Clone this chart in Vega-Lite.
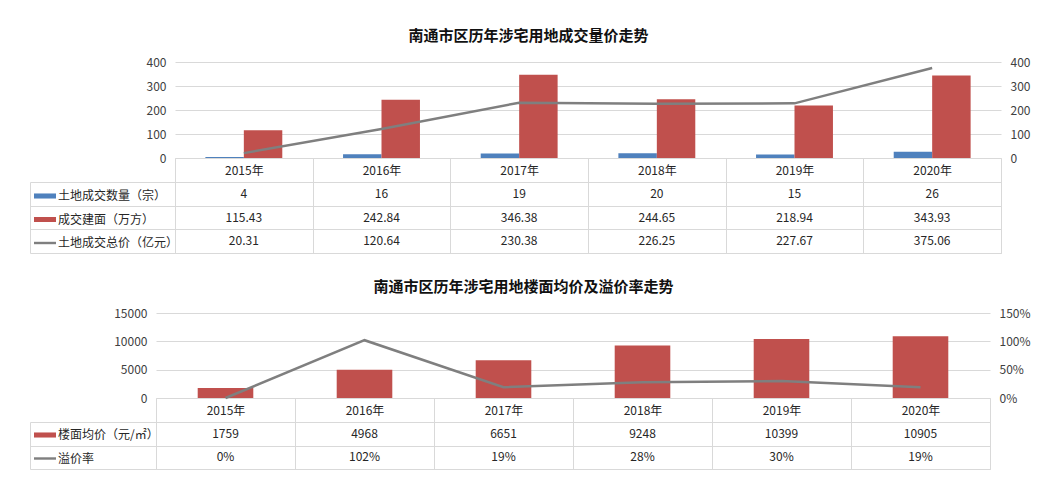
{
  "$schema": "https://vega.github.io/schema/vega-lite/v6.json",
  "padding": {"left": 29, "top": 29, "right": 5, "bottom": 5},
  "background": "white",
  "config": {
    "font": "Noto Sans CJK SC",
    "view": {"stroke": null},
    "axis": {"labelFontSize": 12, "labelColor": "#404040", "title": null}
  },
  "datasets": {
    "land": [
      {"year": "2015年", "count": 4, "area": 115.43, "total": 20.31},
      {"year": "2016年", "count": 16, "area": 242.84, "total": 120.64},
      {"year": "2017年", "count": 19, "area": 346.38, "total": 230.38},
      {"year": "2018年", "count": 20, "area": 244.65, "total": 226.25},
      {"year": "2019年", "count": 15, "area": 218.94, "total": 227.67},
      {"year": "2020年", "count": 26, "area": 343.93, "total": 375.06}
    ],
    "price": [
      {"year": "2015年", "price": 1759, "rate": 0},
      {"year": "2016年", "price": 4968, "rate": 1.02},
      {"year": "2017年", "price": 6651, "rate": 0.19},
      {"year": "2018年", "price": 9248, "rate": 0.28},
      {"year": "2019年", "price": 10399, "rate": 0.3},
      {"year": "2020年", "price": 10905, "rate": 0.19}
    ],
    "none": []
  },
  "resolve": {"scale": {"color": "independent"}},
  "spacing": 26,
  "vconcat": [
    {
      "bounds": "flush",
      "spacing": 0,
      "resolve": {"scale": {"color": "independent"}},
      "hconcat": [
        {"width": 19, "height": 1, "data": {"name": "none"}, "mark": "rect"},
        {
          "title": {"text": "南通市区历年涉宅用地成交量价走势", "fontSize": 15, "fontWeight": "bold", "color": "#111111", "anchor": "middle", "frame": "bounds", "offset": 12, "dx": -1},
          "bounds": "flush",
          "spacing": 24,
          "resolve": {"scale": {"color": "independent"}},
          "vconcat": [
            {
              "width": 826,
              "height": 96,
              "data": {"name": "land"},
              "layer": [
                {
                  "transform": [{"fold": ["count", "area"], "as": ["series", "value"]}],
                  "mark": {"type": "bar"},
                  "encoding": {
                    "x": {"field": "year", "type": "nominal", "sort": null,
                      "scale": {"paddingInner": 0, "paddingOuter": 0},
                      "axis": {"orient": "bottom", "labelAngle": 0, "domainColor": "#d9d9d9", "tickBand": "extent", "tickSize": 24, "tickColor": "#d9d9d9", "labelPadding": -12, "labelBaseline": "middle", "labelColor": "#262626"}},
                    "xOffset": {"field": "series", "type": "nominal", "scale": {"domain": ["count", "area"], "paddingInner": 0, "paddingOuter": 0.79}},
                    "y": {"field": "value", "type": "quantitative", "scale": {"domain": [0, 400]},
                      "axis": {"orient": "left", "values": [0, 100, 200, 300, 400], "domain": false, "ticks": false, "labelPadding": 9, "gridColor": "#d9d9d9"}},
                    "color": {"field": "series", "type": "nominal",
                      "scale": {"domain": ["count", "area", "total"], "range": ["#4f81bd", "#c0504d", "#7f7f7f"]},
                      "legend": {
                        "orient": "none", "legendX": -141, "legendY": 123, "direction": "vertical", "title": null,
                        "padding": 0, "rowPadding": 6.5, "symbolSize": 484, "labelOffset": 2, "labelFontSize": 12,
                        "labelColor": "#262626", "symbolOpacity": 1, "symbolStrokeWidth": 0, "labelLimit": 200,
                        "labelExpr": "{'count': '土地成交数量（宗）', 'area': '成交建面（万方）', 'total': '土地成交总价（亿元）'}[datum.value]",
                        "encode": {"symbols": {"update": {"shape": {"signal": "datum.value === 'total' ? 'M-1,-0.11H1V0.11H-1Z' : 'M-1,-0.23H1V0.23H-1Z'"}}}}
                      }}
                  }
                },
                {
                  "mark": {"type": "line", "strokeWidth": 2.5},
                  "encoding": {
                    "x": {"field": "year", "type": "nominal", "sort": null},
                    "y": {"field": "total", "type": "quantitative", "scale": {"domain": [0, 400]},
                      "axis": {"orient": "right", "values": [0, 100, 200, 300, 400], "domain": false, "ticks": false, "grid": false, "labelPadding": 9}},
                    "color": {"datum": "total"}
                  }
                }
              ],
              "resolve": {"scale": {"y": "independent"}}
            },
            {
              "width": 826,
              "height": 71,
              "data": {"name": "land"},
              "view": {"stroke": "#d9d9d9"},
              "transform": [{"fold": ["count", "area", "total"], "as": ["series", "value"]}],
              "mark": {"type": "text", "fontSize": 12, "color": "#262626"},
              "encoding": {
                "x": {"field": "year", "type": "nominal", "sort": null,
                  "scale": {"type": "band", "paddingInner": 0, "paddingOuter": 0},
                  "axis": {"orient": "top", "labels": false, "ticks": false, "domain": false, "grid": true, "gridColor": "#d9d9d9", "tickBand": "extent"}},
                "y": {"field": "series", "type": "nominal",
                  "scale": {"type": "band", "domain": ["count", "area", "total"], "paddingInner": 0, "paddingOuter": 0},
                  "axis": {"orient": "left", "labels": false, "offset": 145, "domainColor": "#d9d9d9", "tickBand": "extent", "tickSize": -145, "tickColor": "#d9d9d9", "grid": true, "gridColor": "#d9d9d9"}},
                "text": {"field": "value", "type": "nominal"}
              }
            }
          ]
        }
      ]
    },
    {
      "title": {"text": "南通市区历年涉宅用地楼面均价及溢价率走势", "fontSize": 15, "fontWeight": "bold", "color": "#111111", "anchor": "middle", "frame": "bounds", "offset": 12, "dx": -6},
      "bounds": "flush",
      "spacing": 24,
      "resolve": {"scale": {"color": "independent"}},
      "vconcat": [
        {
          "width": 834,
          "height": 85,
          "data": {"name": "price"},
          "layer": [
            {
              "mark": {"type": "bar", "width": {"band": 0.4}},
              "encoding": {
                "x": {"field": "year", "type": "nominal", "sort": null,
                  "scale": {"paddingInner": 0, "paddingOuter": 0},
                  "axis": {"orient": "bottom", "labelAngle": 0, "domainColor": "#d9d9d9", "tickBand": "extent", "tickSize": 24, "tickColor": "#d9d9d9", "labelPadding": -12, "labelBaseline": "middle", "labelColor": "#262626"}},
                "y": {"field": "price", "type": "quantitative", "scale": {"domain": [0, 15000]},
                  "axis": {"orient": "left", "values": [0, 5000, 10000, 15000], "format": "d", "domain": false, "ticks": false, "labelPadding": 9, "gridColor": "#d9d9d9"}},
                "color": {"datum": "price",
                  "scale": {"domain": ["price", "rate"], "range": ["#c0504d", "#7f7f7f"]},
                  "legend": {
                    "orient": "none", "legendX": -122, "legendY": 111, "direction": "vertical", "title": null,
                    "padding": 0, "rowPadding": 6.5, "symbolSize": 484, "labelOffset": 2, "labelFontSize": 12,
                    "labelColor": "#262626", "symbolOpacity": 1, "symbolStrokeWidth": 0, "labelLimit": 200,
                    "labelExpr": "{'price': '楼面均价（元/㎡）', 'rate': '溢价率'}[datum.value]",
                    "encode": {"symbols": {"update": {"shape": {"signal": "datum.value === 'rate' ? 'M-1,-0.11H1V0.11H-1Z' : 'M-1,-0.23H1V0.23H-1Z'"}}}}
                  }}
              }
            },
            {
              "mark": {"type": "line", "strokeWidth": 2.5},
              "encoding": {
                "x": {"field": "year", "type": "nominal", "sort": null},
                "y": {"field": "rate", "type": "quantitative", "scale": {"domain": [0, 1.5]},
                  "axis": {"orient": "right", "values": [0, 0.5, 1, 1.5], "format": ".0%", "domain": false, "ticks": false, "grid": false, "labelPadding": 9}},
                "color": {"datum": "rate"}
              }
            }
          ],
          "resolve": {"scale": {"y": "independent"}}
        },
        {
          "width": 834,
          "height": 47,
          "data": {"name": "price"},
          "view": {"stroke": "#d9d9d9"},
          "transform": [{"fold": ["price", "rate"], "as": ["series", "value"]}],
          "encoding": {
            "x": {"field": "year", "type": "nominal", "sort": null,
              "scale": {"type": "band", "paddingInner": 0, "paddingOuter": 0},
              "axis": {"orient": "top", "labels": false, "ticks": false, "domain": false, "grid": true, "gridColor": "#d9d9d9", "tickBand": "extent"}},
            "y": {"field": "series", "type": "nominal",
              "scale": {"type": "band", "domain": ["price", "rate"], "paddingInner": 0, "paddingOuter": 0},
              "axis": {"orient": "left", "labels": false, "offset": 126, "domainColor": "#d9d9d9", "tickBand": "extent", "tickSize": -126, "tickColor": "#d9d9d9", "grid": true, "gridColor": "#d9d9d9"}}
          },
          "layer": [
            {
              "transform": [{"filter": "datum.series === 'price'"}],
              "mark": {"type": "text", "fontSize": 12, "color": "#262626"},
              "encoding": {"text": {"field": "value", "type": "nominal"}}
            },
            {
              "transform": [{"filter": "datum.series === 'rate'"}],
              "mark": {"type": "text", "fontSize": 12, "color": "#262626"},
              "encoding": {"text": {"field": "value", "type": "quantitative", "format": ".0%"}}
            }
          ]
        }
      ]
    }
  ]
}
